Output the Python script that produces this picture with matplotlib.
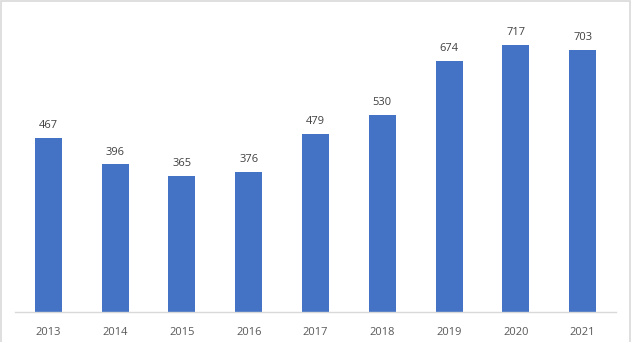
import matplotlib
matplotlib.use("Agg")
import matplotlib.pyplot as plt
from matplotlib.patches import Rectangle

years = ["2013", "2014", "2015", "2016", "2017", "2018", "2019", "2020", "2021"]
values = [467, 396, 365, 376, 479, 530, 674, 717, 703]

plt.rcParams['font.family'] = ['Open Sans', 'DejaVu Sans']

W, H = 632, 342
fig = plt.figure(figsize=(W / 100, H / 100), dpi=100)
ax = fig.add_axes([15 / W, 1 - 312 / H, (616 - 15) / W, (312 - 14) / H])

x = list(range(len(years)))
ax.bar(x, values, width=0.405, color="#4472C4", zorder=2)
for xi, v in zip(x, values):
    ax.annotate(str(v), (xi, v), xytext=(0, 5), textcoords="offset points",
                ha="center", va="bottom", fontsize=8, color="#404040")

ax.set_xlim(-0.5, len(years) - 0.5)
ax.set_ylim(0, 800)
ax.set_xticks(x)
ax.set_xticklabels(years, fontsize=8, color="#595959")
ax.tick_params(axis="x", length=0, pad=11)
ax.set_yticks([])
for s in ["top", "right", "left"]:
    ax.spines[s].set_visible(False)
ax.spines["bottom"].set_color("#D9D9D9")
ax.spines["bottom"].set_linewidth(1)

fig.patches.append(Rectangle((0.5 / W, -0.1), (630 - 0.5) / W, 1.1 - 0.5 / H,
                             transform=fig.transFigure, fill=False,
                             edgecolor="#D9D9D9", linewidth=1.2))

fig.savefig("out.png", dpi=100)
